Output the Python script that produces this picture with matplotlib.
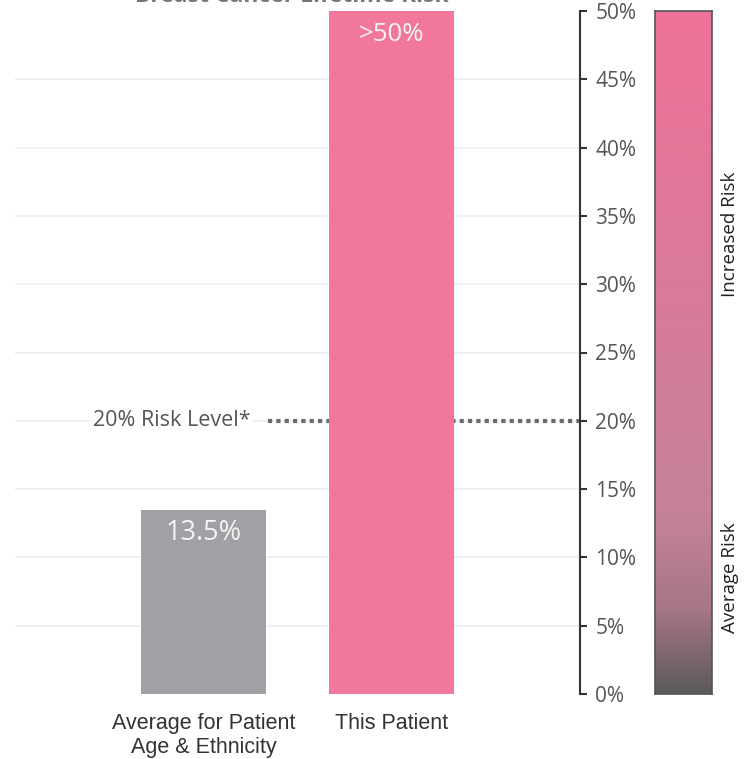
import matplotlib.pyplot as plt
import numpy as np
from matplotlib.colors import LinearSegmentedColormap

plt.rcParams['font.family'] = ['Open Sans', 'DejaVu Sans']

# chart data
categories = ["Average for Patient\nAge & Ethnicity", "This Patient"]
risk = [13.5, 50]
value_labels = ["13.5%", ">50%"]
bar_colors = ["#a0a0a5", "#f2789b"]
risk_level = 20
yticks = np.arange(0, 55, 5)

fig = plt.figure(figsize=(7.49, 7.59), dpi=100)
ax = fig.add_axes([15/749, 65/759, 565/749, 683/759])

x = np.arange(len(categories))
# light grid lines
for t in yticks[1:-1]:
    ax.axhline(t, color="#eeeeee", lw=1.2, zorder=0)

# dotted 20% risk line
ax.plot([0.344, 2.0], [risk_level, risk_level], color="#6a6a6a", lw=3,
        linestyle=(0, (1, 1)), zorder=1)
ax.text(0.25, risk_level, "20% Risk Level*", ha="right", va="center",
        fontsize=15.5, color="#555555", zorder=3,
        bbox=dict(fc="white", ec="none", pad=1))

bars = ax.bar(x, risk, width=0.667, color=bar_colors, zorder=2)
for xi, v, lab, fs in zip(x, risk, value_labels, [19.5, 18.5]):
    ax.text(xi, v - 1.7, lab, ha="center", va="center", color="#f4f4f4",
            fontsize=fs, zorder=4)

ax.set_xlim(-1.0, 2.0)
ax.set_ylim(0, 50)
ax.set_xticks([])
ax.set_yticks(yticks)
ax.set_yticklabels([f"{t}%" for t in yticks])
ax.yaxis.tick_right()
ax.tick_params(axis="y", direction="out", length=5, width=1.5, colors="#333333",
               labelcolor="#555555", labelsize=15, pad=6)
for s in ["left", "top", "bottom"]:
    ax.spines[s].set_visible(False)
ax.spines["right"].set_color("#333333")
ax.spines["right"].set_linewidth(1.5)

for xi, lab in zip(x, categories):
    ax.text(xi, -1.4, lab, ha="center", va="top", fontsize=15.5,
            color="#333333", family="Liberation Sans", linespacing=1.2)

# title, mostly cut off at the top
fig.text(292/749, 1 - 2/759, "Breast Cancer Lifetime Risk", ha="center",
         va="baseline", fontsize=16.5, color="#777777", fontweight="bold")

# risk gradient scale
cmap = LinearSegmentedColormap.from_list("risk", [
    (0.0, (92/255, 90/255, 92/255)),
    (0.12, (165/255, 118/255, 133/255)),
    (0.25, (195/255, 130/255, 152/255)),
    (0.55, (215/255, 123/255, 152/255)),
    (1.0, (239/255, 114/255, 152/255)),
])
cax = fig.add_axes([655/749, 65/759, 57/749, 683/759])
grad = np.linspace(0, 1, 256).reshape(-1, 1)
cax.imshow(grad, aspect="auto", cmap=cmap, origin="lower", extent=[0, 1, 0, 1])
cax.set_xticks([])
cax.set_yticks([])
for s in cax.spines.values():
    s.set_color("#555555")
    s.set_linewidth(1.2)

fig.text(730/749, (759-234)/759, "Increased Risk", rotation=90, ha="center",
         va="center", fontsize=13.5, color="#222222")
fig.text(730/749, (759-578)/759, "Average Risk", rotation=90, ha="center",
         va="center", fontsize=13.5, color="#222222")

fig.savefig("out.png", dpi=100, facecolor="white")
